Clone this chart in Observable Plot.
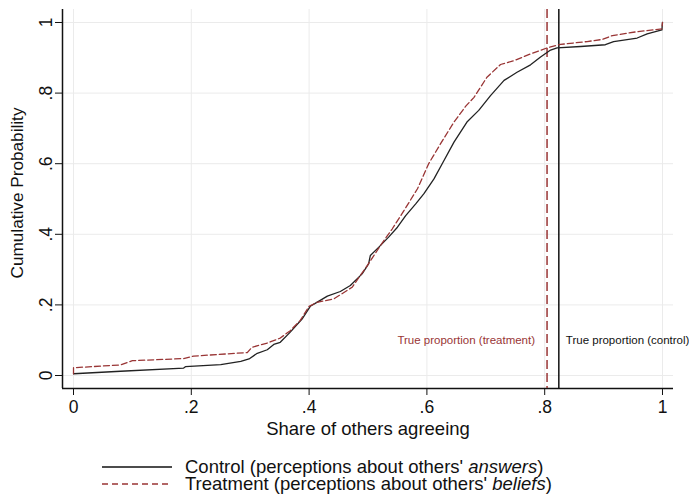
<!DOCTYPE html>
<html>
<head>
<meta charset="utf-8">
<script src="https://cdn.jsdelivr.net/npm/d3@7"></script>
<script src="https://cdn.jsdelivr.net/npm/@observablehq/plot@0.6"></script>
<style>
  body { margin: 0; background: white; }
  #wrap { width: 689px; font-family: "Liberation Sans", Arial, sans-serif; }
  #legend { position: relative; height: 63px; font-size: 18.5px; color: #111; }
  .row { position: absolute; left: 102px; height: 16px; display: flex; align-items: center; white-space: nowrap; }
  .row span { margin-left: 13px; line-height: 16px; }
</style>
</head>
<body>
<div id="wrap">
  <div id="chart"></div>
  <div id="legend"></div>
</div>
<script>
// ---- data ----
const controlX = [0, 0.08, 0.187, 0.19, 0.25, 0.284, 0.298, 0.312, 0.329, 0.34, 0.351, 0.368, 0.388, 0.402, 0.411, 0.431, 0.453, 0.470, 0.49, 0.501, 0.504, 0.518, 0.535, 0.55, 0.564, 0.581, 0.595, 0.612, 0.626, 0.646, 0.668, 0.688, 0.708, 0.731, 0.753, 0.776, 0.793, 0.81, 0.821, 0.861, 0.903, 0.917, 0.957, 0.974, 0.999, 1];
const controlY = [0.005, 0.012, 0.021, 0.025, 0.031, 0.04, 0.047, 0.063, 0.073, 0.088, 0.094, 0.123, 0.16, 0.196, 0.205, 0.225, 0.238, 0.255, 0.288, 0.316, 0.34, 0.363, 0.392, 0.42, 0.453, 0.486, 0.515, 0.557, 0.6, 0.661, 0.718, 0.751, 0.793, 0.836, 0.859, 0.88, 0.902, 0.922, 0.928, 0.932, 0.937, 0.946, 0.956, 0.968, 0.979, 1];

const treatX = [0, 0, 0.08, 0.1, 0.187, 0.204, 0.295, 0.303, 0.329, 0.351, 0.368, 0.385, 0.40, 0.413, 0.442, 0.473, 0.499, 0.521, 0.541, 0.561, 0.584, 0.603, 0.623, 0.646, 0.666, 0.68, 0.702, 0.725, 0.748, 0.776, 0.804, 0.827, 0.872, 0.898, 0.915, 0.957, 0.999, 1];
const treatY = [0.005, 0.022, 0.030, 0.042, 0.048, 0.055, 0.065, 0.08, 0.092, 0.106, 0.127, 0.156, 0.196, 0.207, 0.217, 0.25, 0.312, 0.368, 0.415, 0.467, 0.529, 0.6, 0.656, 0.718, 0.763, 0.788, 0.845, 0.881, 0.892, 0.911, 0.928, 0.938, 0.946, 0.952, 0.963, 0.974, 0.982, 1];

const trueTreatment = 0.804;
const trueControl = 0.824;
const annotationY = 0.099;

const ticks = [0, 0.2, 0.4, 0.6, 0.8, 1];
const tickLabels = ["0", ".2", ".4", ".6", ".8", "1"];

const seriesNames = ["Control (perceptions about others' ", "Treatment (perceptions about others' "];
const seriesItalic = ["answers", "beliefs"];

// ---- build ----
const RED = "#993535";
const INK = "#111111";
const xDom = [-0.0187, 1.0187];
const yDom = [-0.0368, 1.0368];
const fmt = d => tickLabels[ticks.indexOf(d)];

const control = controlX.map((x, i) => ({x, y: controlY[i]}));
const treat = treatX.map((x, i) => ({x, y: treatY[i]}));

const chart = Plot.plot({
  width: 689,
  height: 440,
  marginLeft: 62,
  marginRight: 16,
  marginTop: 9,
  marginBottom: 52,
  style: {fontFamily: "'Liberation Sans', Arial, sans-serif", background: "white", color: INK},
  x: {domain: xDom},
  y: {domain: yDom},
  marks: [
    Plot.gridX(ticks, {stroke: "#ebebeb", strokeOpacity: 1, strokeWidth: 1}),
    Plot.gridY(ticks, {stroke: "#ebebeb", strokeOpacity: 1, strokeWidth: 1}),
    Plot.ruleX([xDom[0]], {stroke: INK, strokeWidth: 1.5}),
    Plot.ruleY([yDom[0]], {stroke: INK, strokeWidth: 1.5}),
    Plot.axisX(ticks, {tickFormat: fmt, tickSize: 7, tickPadding: 5, fontSize: 17.5, label: null, stroke: INK, fill: INK}),
    Plot.axisY(ticks, {tickFormat: fmt, tickSize: 7, tickPadding: 4, tickRotate: -90, fontSize: 17.5, label: null, stroke: INK, fill: INK}),
    Plot.text(["Share of others agreeing"], {frameAnchor: "bottom", lineAnchor: "middle", textAnchor: "middle", dy: 41, fontSize: 18.5, fill: INK}),
    Plot.text(["Cumulative Probability"], {frameAnchor: "left", lineAnchor: "middle", textAnchor: "middle", rotate: -90, dx: -45, dy: -6, fontSize: 17.2, fill: INK}),
    Plot.ruleX([trueTreatment], {stroke: RED, strokeWidth: 1.5, strokeDasharray: "9,4"}),
    Plot.ruleX([trueControl], {stroke: INK, strokeWidth: 1.5}),
    Plot.line(control, {x: "x", y: "y", stroke: "#222", strokeWidth: 1.3}),
    Plot.line(treat, {x: "x", y: "y", stroke: RED, strokeWidth: 1.3, strokeDasharray: "6,3"}),
    Plot.text(["True proportion (treatment)"], {x: () => trueTreatment, y: () => annotationY, textAnchor: "end", dx: -12, fontSize: 11.5, fill: RED}),
    Plot.text(["True proportion (control)"], {x: () => trueControl, y: () => annotationY, textAnchor: "start", dx: 7, fontSize: 11.5, fill: INK})
  ]
});
document.getElementById("chart").appendChild(chart);

// ---- legend ----
const legend = d3.select("#legend");
const styles = [{stroke: INK, dash: null}, {stroke: RED, dash: "6,4"}];
const tops = [19, 35.5];
seriesNames.forEach((name, i) => {
  const row = legend.append("div").attr("class", "row").style("top", tops[i] + "px");
  const s = row.append("svg").attr("width", 70).attr("height", 4);
  s.append("line").attr("x1", 0).attr("x2", 70).attr("y1", 2).attr("y2", 2)
    .attr("stroke", styles[i].stroke).attr("stroke-width", 1.3)
    .attr("stroke-dasharray", styles[i].dash);
  const sp = row.append("span");
  sp.append("tspan").text(name);
  sp.append("i").text(seriesItalic[i]);
  sp.append("tspan").text(")");
});
</script>
</body>
</html>
